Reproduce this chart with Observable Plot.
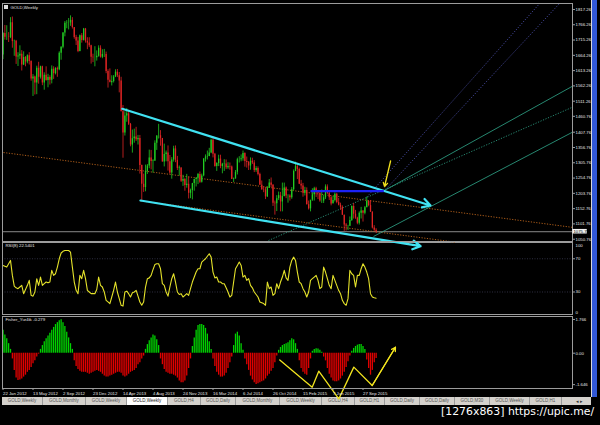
<!DOCTYPE html>
<html><head><meta charset="utf-8">
<script src="https://cdn.jsdelivr.net/npm/d3@7"></script>
<script src="https://cdn.jsdelivr.net/npm/@observablehq/plot@0.6"></script>
<style>
html,body{margin:0;padding:0;background:#000;}
#wrap{position:relative;width:600px;height:425px;overflow:hidden;background:#000;font-family:"Liberation Sans",Arial,sans-serif;}
.panel{position:absolute;left:0;}
.panel svg{overflow:visible;display:block;}
#tabs{position:absolute;left:2px;top:397px;height:8px;width:589px;background:#d4d1cc;}
.tab{position:absolute;top:0;height:8px;font-size:4.5px;line-height:8px;text-align:center;color:#555;border-right:0.7px solid #9a9a9a;box-sizing:border-box;white-space:nowrap;}
.tab.active{background:#fff;color:#222;}
#arrows{position:absolute;left:576px;top:397px;font-size:5px;line-height:8px;color:#333;}
#wm{position:absolute;left:441px;top:405px;color:#fff;font-family:"DejaVu Sans",sans-serif;font-size:10.9px;white-space:nowrap;}
#stripe{position:absolute;left:591px;top:0;width:5px;height:397px;background:#3158d6;border-left:1px solid #d8d8d8;}
#icon{position:absolute;left:4px;top:5px;width:3.5px;height:3.5px;background:#ddd;}
</style></head><body><div id="wrap">
<div id="main" class="panel" style="top:0;z-index:3"></div>
<div id="rsi" class="panel" style="top:242px;z-index:1"></div>
<div id="fisher" class="panel" style="top:314px;z-index:2"></div>
<div id="icon"></div>
<div id="tabs"></div>
<div id="arrows">◂ ▸</div>
<div id="stripe"></div>
<div id="wm"></div>
</div>
<script>
// ---------- DATA ----------
const firstOpen = 1665;
const high = [
1740,1764,1763,1740,1790,1792,1715,1714,1673,1696,
1680,1676,1660,1666,1673,1646,1600,1595,1628,1641,
1628,1628,1606,1626,1601,1596,1629,1626,1623,1625,
1676,1693,1740,1777,1780,1787,1796,1790,1754,1731,
1724,1732,1737,1754,1754,1723,1723,1698,1668,1693,
1679,1696,1696,1683,1684,1675,1616,1619,1596,1597,
1616,1617,1607,1591,1497,1476,1487,1479,1437,1415,
1418,1424,1397,1397,1298,1268,1298,1300,1348,1347,
1316,1379,1393,1434,1413,1385,1368,1345,1362,1330,
1323,1361,1362,1327,1295,1289,1264,1254,1267,1258,
1218,1234,1251,1256,1270,1275,1268,1320,1332,1345,
1354,1385,1392,1337,1306,1331,1331,1304,1316,1315,
1306,1305,1295,1255,1280,1321,1326,1332,1345,1339,
1325,1310,1322,1321,1313,1293,1292,1271,1245,1225,
1223,1226,1250,1255,1233,1178,1196,1208,1207,1238,
1238,1225,1199,1199,1223,1282,1308,1299,1288,1247,
1237,1224,1222,1178,1180,1219,1224,1224,1210,1208,
1215,1197,1232,1232,1208,1195,1193,1205,1204,1187,
1171,1162,1131,1103,1097,1125,1162,1170,1147,1124,
1142,1157,1146,1160,1191,1178,1180,1142,1096,1086];
const low = [
1650,1715,1714,1707,1720,1688,1661,1634,1627,1650,
1612,1630,1626,1636,1632,1578,1527,1532,1533,1568,
1585,1563,1548,1578,1556,1565,1569,1584,1599,1591,
1613,1648,1686,1726,1753,1749,1761,1752,1718,1697,
1673,1676,1705,1712,1705,1683,1690,1635,1640,1626,
1645,1658,1655,1653,1657,1603,1555,1575,1562,1572,
1590,1590,1539,1476,1321,1395,1441,1430,1359,1338,
1371,1377,1365,1268,1180,1207,1209,1267,1286,1282,
1271,1310,1347,1385,1361,1309,1292,1309,1278,1267,
1251,1308,1306,1280,1261,1240,1227,1211,1221,1185,
1186,1182,1211,1225,1233,1237,1238,1259,1308,1315,
1326,1336,1322,1291,1277,1293,1286,1269,1277,1283,
1284,1281,1252,1240,1251,1265,1305,1309,1311,1291,
1288,1280,1281,1300,1273,1274,1262,1231,1214,1206,
1183,1190,1220,1223,1160,1131,1143,1180,1142,1142,
1192,1186,1171,1178,1184,1212,1276,1250,1233,1216,
1191,1195,1165,1148,1142,1177,1178,1190,1183,1174,
1170,1170,1183,1200,1180,1162,1170,1175,1169,1162,
1147,1130,1077,1078,1080,1093,1110,1118,1117,1099,
1098,1118,1108,1132,1156,1159,1140,1085,1077,1070];
const close = [
1737,1725,1725,1724,1773,1710,1711,1659,1662,1668,
1632,1657,1642,1663,1644,1585,1592,1572,1621,1591,
1626,1572,1598,1580,1590,1581,1618,1603,1620,1616,
1671,1691,1739,1771,1772,1772,1781,1757,1724,1712,
1677,1730,1714,1752,1711,1705,1696,1658,1656,1656,
1661,1688,1658,1667,1667,1610,1581,1573,1577,1592,
1608,1596,1579,1476,1405,1462,1469,1434,1365,1386,
1392,1383,1387,1297,1234,1223,1277,1295,1322,1310,
1312,1371,1396,1396,1387,1308,1333,1338,1309,1272,
1315,1352,1314,1287,1288,1244,1250,1230,1234,1204,
1213,1237,1250,1254,1267,1241,1262,1318,1325,1327,
1338,1381,1334,1293,1303,1318,1293,1301,1302,1289,
1293,1292,1250,1252,1274,1316,1316,1319,1337,1310,
1307,1295,1311,1305,1280,1287,1267,1231,1216,1215,
1192,1222,1238,1231,1171,1169,1186,1196,1175,1193,
1222,1195,1195,1189,1216,1277,1293,1283,1234,1228,
1204,1213,1166,1152,1181,1199,1219,1206,1203,1178,
1178,1189,1225,1204,1189,1168,1180,1201,1173,1164,
1157,1131,1098,1094,1094,1113,1160,1134,1121,1104,
1137,1145,1137,1156,1177,1163,1141,1088,1081,1075.73];
const rsi = [
62,61,60,64,68,50,37,35,34,36,
38,28,33,38,44,26,25,30,46,38,
48,38,40,42,41,42,56,50,52,60,
70,77,79,80,80,80,78,60,42,32,
28,50,46,56,46,32,30,28,28,28,
33,48,38,36,30,20,18,16,24,32,
42,30,22,14,13,30,31,28,24,29,
30,32,25,18,14,18,36,46,47,50,
57,63,64,64,58,40,38,30,25,36,
46,52,42,30,27,28,24,26,28,26,
34,42,48,54,58,58,66,68,70,73,
76,72,54,47,48,42,42,40,40,35,
30,24,26,42,58,62,66,62,48,50,
44,46,38,35,30,27,24,18,17,16,
14,42,34,36,26,28,40,34,42,48,
56,47,44,60,68,72,68,54,42,40,
34,30,24,30,44,46,48,50,44,34,
36,60,54,46,38,34,50,44,38,32,
28,20,16,14,22,56,52,50,36,50,
50,58,64,60,54,46,28,24,23,22.54];
const fisher = [
1.2,0.95,0.75,0.5,0.2,-0.3,-0.9,-1.3,-1.43,-1.4,
-1.35,-1.25,-1.15,-1.0,-0.9,-0.75,-0.55,-0.4,-0.2,-0.05,
0.2,0.4,0.6,0.75,0.9,1.05,1.2,1.35,1.5,1.6,
1.7,1.75,1.6,1.4,1.1,0.8,0.5,0.2,-0.4,-0.7,
-0.85,-0.95,-1.0,-1.0,-1.0,-1.05,-1.1,-1.05,-1.0,-0.95,
-0.9,-0.95,-1.0,-1.1,-1.2,-1.25,-1.25,-1.2,-1.15,-1.1,
-1.05,-1.0,-1.0,-1.05,-1.2,-1.25,-1.2,-1.1,-1.0,-0.95,
-0.9,-0.8,-0.6,-0.5,-0.3,-0.15,0.2,0.45,0.65,0.8,
0.95,0.9,0.7,0.4,-0.3,-0.6,-0.85,-1.0,-1.05,-1.1,
-1.1,-1.15,-1.2,-1.3,-1.45,-1.55,-1.55,-1.45,-1.2,-0.8,
-0.3,0.35,0.8,1.2,1.45,1.5,1.5,1.45,1.3,1.0,
0.6,0.2,-0.3,-0.7,-1.0,-1.15,-1.25,-1.25,-1.2,-1.05,
-0.8,-0.5,-0.2,0.4,1.0,1.1,0.9,0.5,0.15,-0.3,
-0.6,-0.9,-1.2,-1.4,-1.55,-1.64,-1.6,-1.55,-1.5,-1.45,
-1.35,-1.2,-1.1,-0.95,-0.8,-0.5,-0.15,0.15,0.3,0.4,
0.45,0.5,0.55,0.65,0.75,0.7,0.5,0.2,-0.4,-0.8,
-1.0,-1.1,-1.15,-0.8,-0.3,0.1,0.2,0.23,0.22,0.15,
0.05,-0.2,-0.4,-0.8,-1.1,-1.3,-1.45,-1.5,-1.5,-1.45,
-1.35,-1.2,-1.0,-0.75,-0.45,-0.15,0.1,0.25,0.35,0.42,
0.45,0.45,0.35,0.2,-0.35,-0.8,-1.15,-0.9,-0.5,-0.279];
const priceTicks = [1817.26,1766.26,1715.26,1664.26,1613.26,1562.26,1511.26,1460.76,1407.76,1356.76,1305.76,1254.76,1203.76,1152.76,1101.76,1050.76];
const currentPrice = 1075.73;
const rsiLevels = [70, 30];
const fisherTicks = [1.766, 0, -1.646];
const dateTicks = ["2012-01-22","2012-05-13","2012-09-02","2012-12-23","2013-04-14","2013-08-04","2013-11-24","2014-03-16","2014-07-06","2014-10-26","2015-02-15","2015-06-07","2015-09-27"];
const tabs = ["GOLD,Weekly","GOLD,Monthly","GOLD,Weekly","GOLD,Weekly","GOLD,H4","GOLD,Daily","GOLD,Monthly","GOLD,Weekly","GOLD,H4","GOLD,H1","GOLD,Daily","GOLD,Daily","GOLD,M30","GOLD,Weekly","GOLD,H1"];
const activeTab = 3;
// drawn objects: [week offset from first bar, price]
const upperChannel = [[63.6,1485.8],[228.0,1163.2]];
const lowerChannel = [[73.3,1179.9],[222.7,1027.4]];
const blueLevel = [[164.0,1210.9],[203.1,1210.9]];
const pointer = [[206.7,1311.7],[203.5,1226.6]];
const orangeLine1 = [[0.27,1340.0],[304.3,1089.8]];
const orangeLine2 = [[73.3,1178.6],[241.3,1040.8]];
const fanSolidA = [[203.5,1213.3],[303.7,1561.2]];
const fanDottedB = [[141.6,1046.4],[303.7,1491.2]];
const fanSolidC = [[197.6,1059.8],[303.7,1407.8]];
const fanDottedP1 = [[194.0,1191.0],[286.7,1840.5]];
const fanDottedP2 = [[203.5,1213.3],[297.3,1840.5]];
// fisher-panel zigzag: [week offset, fisher value]
const zigzag = [[147.6,-0.35],[164.9,-1.78],[168.4,-0.94],[179.1,-2.39],[187.1,-0.73],[196.9,-1.69],[209.3,0.31]];

// ---------- BUILD ----------
const WEEK = 7*864e5;
const weekStart = new Date(Date.UTC(2012,0,22));
const weeks = d3.utcSunday.range(weekStart, new Date(Date.UTC(2015,10,16)));
const dAt = w => new Date(+weekStart + w*WEEK);
const bars = weeks.map((date,i)=>({date, open: i ? close[i-1] : firstOpen, high: high[i], low: low[i], close: close[i]}));
bars.forEach(b=>b.up = b.close >= b.open);
const rsiData = weeks.map((date,i)=>({date, v: rsi[i]}));
const fisherData = weeks.map((date,i)=>({date, v: fisher[i]}));

const W = 600, ML = 2, MR = 28;
const xDomain = [dAt(-0.267), dAt(303.73)];
const TXT = "#e6e6e6", FS = 4.3, FRAME = "#9c9c9c";
const seg = (line, o) => Plot.link([line], {x1:d=>dAt(d[0][0]), y1:d=>d[0][1], x2:d=>dAt(d[1][0]), y2:d=>d[1][1], ...o});
const arr = (line, o) => Plot.arrow([line], {x1:d=>dAt(d[0][0]), y1:d=>d[0][1], x2:d=>dAt(d[1][0]), y2:d=>d[1][1], ...o});

const GREEN = "#22cc22", RED = "#e02424", CYAN = "#40e2f2";
const main = Plot.plot({
  width: W, height: 242, marginTop: 3, marginBottom: 1, marginLeft: ML, marginRight: MR,
  style: {background: "transparent", overflow: "visible", fontFamily: "Liberation Sans, Arial, sans-serif"},
  x: {type: "utc", domain: xDomain, axis: null},
  y: {domain: [1043.1, 1837.2], axis: null},
  marks: [
    Plot.ruleY([currentPrice], {stroke: "#8a8a8a", strokeWidth: 1}),
    seg(orangeLine1, {stroke: "#c0661c", strokeWidth: 0.9, strokeDasharray: "1.2,1.5"}),
    seg(orangeLine2, {stroke: "#c0661c", strokeWidth: 0.9, strokeDasharray: "1.2,1.5"}),
    seg(fanDottedP1, {stroke: "#5056b8", strokeWidth: 0.8, strokeDasharray: "1.2,1.5", clip: true}),
    seg(fanDottedP2, {stroke: "#5056b8", strokeWidth: 0.8, strokeDasharray: "1.2,1.5", clip: true}),
    seg(fanSolidA, {stroke: "#30a88c", strokeWidth: 0.8, clip: true}),
    seg(fanDottedB, {stroke: "#30a88c", strokeWidth: 0.8, strokeDasharray: "1.2,1.5", clip: true}),
    seg(fanSolidC, {stroke: "#30a88c", strokeWidth: 0.8, clip: true}),
    Plot.ruleX(bars, {x: "date", y1: "low", y2: "high", stroke: d => d.up ? GREEN : RED, strokeWidth: 0.8}),
    Plot.ruleX(bars, {x: "date", y1: "open", y2: "close", stroke: d => d.up ? GREEN : RED, strokeWidth: 1.3}),
    arr(upperChannel, {stroke: CYAN, strokeWidth: 2.2, headLength: 6}),
    arr(lowerChannel, {stroke: CYAN, strokeWidth: 2.2, headLength: 6}),
    seg(blueLevel, {stroke: "#1c22f5", strokeWidth: 2.2}),
    arr(pointer, {stroke: "#f2e21e", strokeWidth: 1.3, headLength: 5}),
    Plot.frame({stroke: FRAME, strokeWidth: 1}),
    Plot.axisY({ticks: priceTicks, anchor: "right", tickSize: 2, tickPadding: 1, tickFormat: d => d.toFixed(2), fontSize: FS, fill: TXT, stroke: FRAME, label: null}),
    Plot.rect([currentPrice], {x1: dAt(303.9), x2: dAt(311.6), y1: d => d - 7.6, y2: d => d + 7.6, fill: "#f2f2f2"}),
    Plot.text([currentPrice], {x: dAt(304.2), y: d => d, text: d => d.toFixed(2), textAnchor: "start", fill: "#000", fontSize: FS}),
    Plot.text(["GOLD,Weekly"], {frameAnchor: "top-left", dx: 8, dy: 2, fill: TXT, fontSize: FS})
  ]
});
document.getElementById("main").append(main);

const rsiPlot = Plot.plot({
  width: W, height: 72, marginTop: 0, marginBottom: 0, marginLeft: ML, marginRight: MR,
  style: {background: "transparent", overflow: "visible", fontFamily: "Liberation Sans, Arial, sans-serif"},
  x: {type: "utc", domain: xDomain, axis: null},
  y: {domain: [2.9, 89.6], axis: null},
  marks: [
    Plot.ruleY(rsiLevels, {stroke: "#3a3a52", strokeWidth: 0.8, strokeDasharray: "1,1.5"}),
    Plot.line(rsiData, {x: "date", y: "v", stroke: "#e4e22a", strokeWidth: 1.1}),
    Plot.frame({stroke: FRAME, strokeWidth: 1}),
    Plot.axisY({ticks: rsiLevels, anchor: "right", tickSize: 2, tickPadding: 1, tickFormat: d => String(d), fontSize: FS, fill: TXT, stroke: FRAME, label: null}),
    Plot.text(["100"], {frameAnchor: "top-right", dx: 3, dy: 1.6, textAnchor: "start", fill: TXT, fontSize: FS}),
    Plot.text(["0"], {frameAnchor: "bottom-right", dx: 3, dy: -1, textAnchor: "start", fill: TXT, fontSize: FS}),
    Plot.text(["RSI(8) 22.5401"], {frameAnchor: "top-left", dx: 3, dy: 1.6, fill: TXT, fontSize: FS})
  ]
});
document.getElementById("rsi").append(rsiPlot);

const fisherPlot = Plot.plot({
  width: W, height: 84, marginTop: 2, marginBottom: 10, marginLeft: ML, marginRight: MR,
  style: {background: "transparent", overflow: "visible", fontFamily: "Liberation Sans, Arial, sans-serif"},
  x: {type: "utc", domain: xDomain, axis: null},
  y: {domain: [-1.848, 1.921], axis: null},
  marks: [
    Plot.ruleX(fisherData, {x: "date", y1: 0, y2: "v", stroke: d => d.v >= 0 ? "#00d200" : "#e00000", strokeWidth: 1.3}),
    Plot.line(zigzag, {x: d => dAt(d[0]), y: d => d[1], stroke: "#f2e41e", strokeWidth: 1.3}),
    Plot.arrow([zigzag.slice(-2)], {x1: d => dAt(d[0][0]), y1: d => d[0][1], x2: d => dAt(d[1][0]), y2: d => d[1][1], stroke: "#f2e41e", strokeWidth: 1.3, headLength: 5}),
    Plot.frame({stroke: FRAME, strokeWidth: 1}),
    Plot.axisY({ticks: fisherTicks, anchor: "right", tickSize: 2, tickPadding: 1, tickFormat: d => d === 0 ? "0.00" : String(d), fontSize: FS, fill: TXT, stroke: FRAME, label: null}),
    Plot.axisX({ticks: dateTicks.map(s => new Date(s)), anchor: "bottom", tickSize: 2, tickPadding: 1, textAnchor: "start", tickFormat: d3.utcFormat("%-d %b %Y"), fontSize: FS, fill: TXT, stroke: FRAME, label: null}),
    Plot.text(["Fisher_Yur4ik -0.279"], {frameAnchor: "top-left", dx: 3, dy: 1.2, fill: TXT, fontSize: FS})
  ]
});
document.getElementById("fisher").append(fisherPlot);

// tab bar
const tabEdges = [0,41,84,125,166,199,234,278,320,353,383,418,453,488,528,560];
const tabBar = document.getElementById("tabs");
tabs.forEach((t,i)=>{
  const el = document.createElement("div");
  el.className = "tab" + (i===activeTab ? " active" : "");
  el.style.left = tabEdges[i] + "px";
  el.style.width = (tabEdges[i+1]-tabEdges[i]) + "px";
  el.textContent = t;
  tabBar.append(el);
});
document.getElementById("wm").textContent = "[1276x863] https://upic.me/";
</script></body></html>
